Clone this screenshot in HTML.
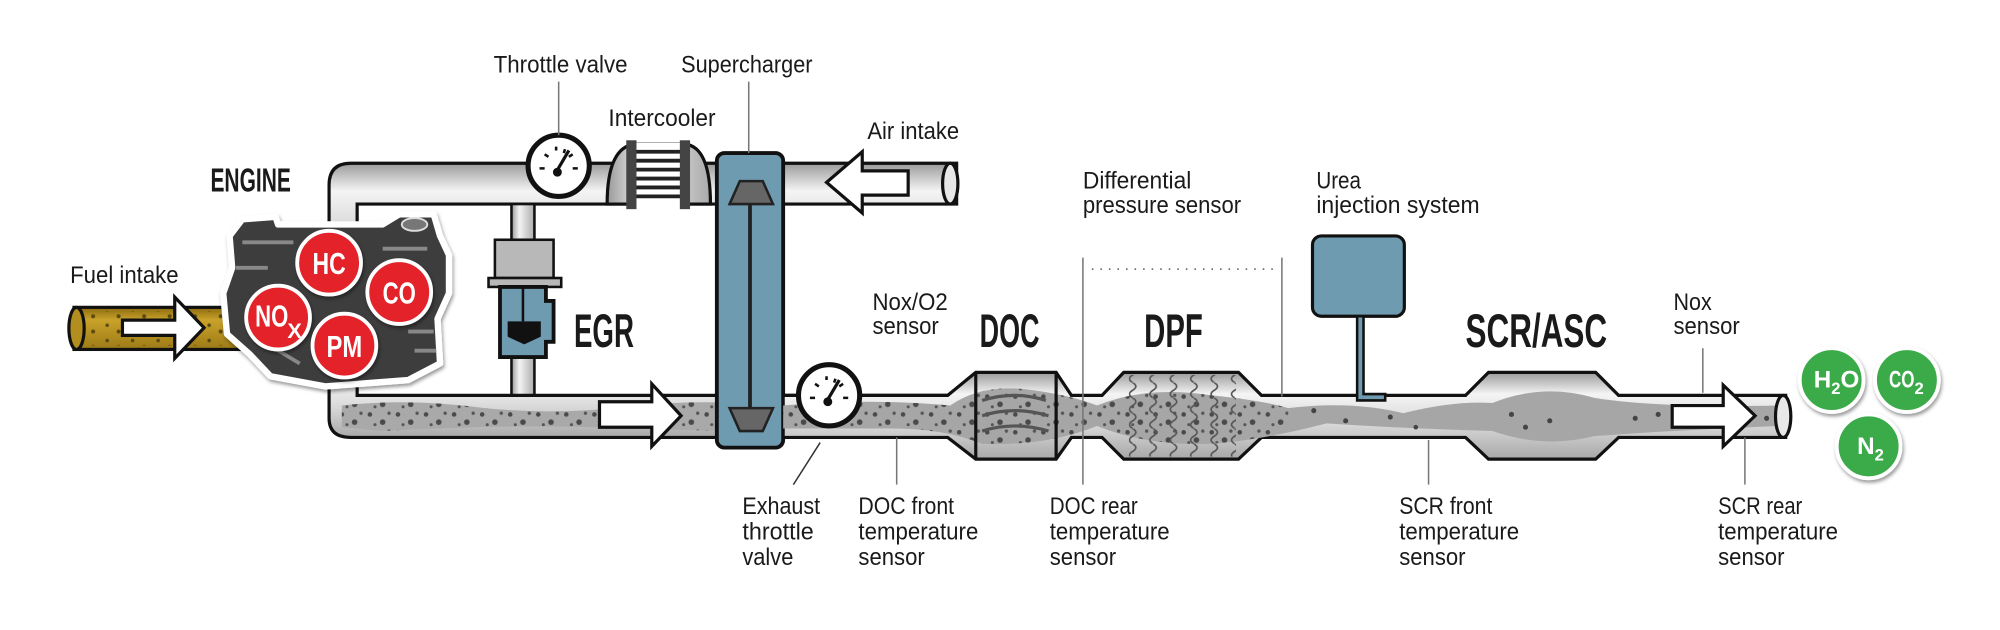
<!DOCTYPE html>
<html><head><meta charset="utf-8"><style>
html,body{margin:0;padding:0;background:#fff;width:2000px;height:630px;overflow:hidden}
svg{display:block}
text{font-family:"Liberation Sans",sans-serif;fill:#1a1a1a}
.l{font-size:18.5px}
.b{font-size:37px;font-weight:bold}
</style></head><body>
<svg width="2000" height="630" viewBox="0 0 1568 494" preserveAspectRatio="none" xmlns="http://www.w3.org/2000/svg">
<defs>
<linearGradient id="pg" x1="0" y1="0" x2="0" y2="1">
<stop offset="0" stop-color="#9a9a9a"/><stop offset="0.25" stop-color="#f4f4f4"/><stop offset="0.6" stop-color="#d8d8d8"/><stop offset="1" stop-color="#a8a8a8"/></linearGradient>
<linearGradient id="pv" x1="0" y1="0" x2="1" y2="0">
<stop offset="0" stop-color="#9a9a9a"/><stop offset="0.35" stop-color="#f4f4f4"/><stop offset="1" stop-color="#aaa"/></linearGradient>
<linearGradient id="gold" x1="0" y1="0" x2="0" y2="1">
<stop offset="0" stop-color="#8a6a10"/><stop offset="0.3" stop-color="#c9a22a"/><stop offset="1" stop-color="#9c7a16"/></linearGradient>
<pattern id="dots" width="22" height="14" patternUnits="userSpaceOnUse">
<circle cx="4" cy="3" r="1.8" fill="#4a4a4a"/><circle cx="14" cy="9" r="2.2" fill="#4a4a4a"/><circle cx="19" cy="2" r="1.3" fill="#555"/><circle cx="8" cy="11" r="1.2" fill="#555"/></pattern>
<pattern id="gdots" width="20" height="12" patternUnits="userSpaceOnUse">
<circle cx="4" cy="3" r="1.4" fill="#5a4a10"/><circle cx="13" cy="8" r="1.6" fill="#5a4a10"/></pattern>
<pattern id="wig" width="16" height="12" patternUnits="userSpaceOnUse">
<path d="M8 0 q5 3 0 6 q-5 3 0 6" fill="none" stroke="#555" stroke-width="1.3"/></pattern>
<filter id="sh" x="-30%" y="-30%" width="160%" height="160%"><feDropShadow dx="1" dy="2" stdDeviation="1.5" flood-opacity="0.4"/></filter>
</defs>

<path d="M258 215 V145 Q258 128 275 128 H750 V160 H280 V215 Z" fill="url(#pg)" stroke="#111" stroke-width="2.5"/>
<ellipse cx="745" cy="144" rx="6" ry="16" fill="#e8e8e8" stroke="#111" stroke-width="2.5"/>
<rect x="401" y="160" width="18" height="152" fill="url(#pv)" stroke="#111" stroke-width="2"/>
<path d="M258 285 V328 Q258 343 275 343 H745 V310 H280 V285 Z" fill="url(#pg)" stroke="#111" stroke-width="2.5"/>
<path d="M268 318 Q320 312 380 320 Q440 326 500 318 Q560 312 620 320 L745 318 L745 336 Q600 340 500 336 Q400 332 300 338 L268 335 Z" fill="#a9a9a9"/>
<path d="M268 318 Q320 312 380 320 Q440 326 500 318 Q560 312 620 320 L745 318 L745 336 Q600 340 500 336 Q400 332 300 338 L268 335 Z" fill="url(#dots)"/>

<rect x="58" y="241" width="135" height="33" fill="url(#gold)" stroke="#111" stroke-width="2.5"/>
<rect x="60" y="244" width="130" height="27" fill="url(#gdots)"/>
<ellipse cx="60" cy="257.5" rx="6" ry="16.5" fill="#b38d1e" stroke="#111" stroke-width="2.5"/>
<path d="M96 251 H137 V233 L160 257 L137 281 V263 H96 Z" fill="#fff" stroke="#111" stroke-width="2.5"/>

<g filter="url(#sh)">
<path d="M190 172 L216 170 L218 176 L300 176 L313 168 L340 168 L345 185 L352 200 L352 230 L343 250 L345 285 L320 298 L255 303 L212 295 L196 278 L178 262 L175 230 L182 210 L180 185 Z" fill="#3c3c3c" stroke="#fff" stroke-width="5" stroke-linejoin="round"/>
<path d="M190 190 H230 M185 210 H210 M300 195 H335 M300 210 L325 215 M320 260 H340 M325 275 H342 M210 270 L235 285" stroke="#888" stroke-width="3"/>
<ellipse cx="325" cy="176" rx="10" ry="5" fill="#777" stroke="#ddd" stroke-width="1.5"/>
</g>
<g filter="url(#sh)">
<circle cx="258" cy="206" r="25" fill="#e3222a" stroke="#fff" stroke-width="3"/>
<circle cx="313" cy="229" r="25" fill="#e3222a" stroke="#fff" stroke-width="3"/>
<circle cx="218" cy="249" r="25" fill="#e3222a" stroke="#fff" stroke-width="3"/>
<circle cx="270" cy="271" r="25" fill="#e3222a" stroke="#fff" stroke-width="3"/>
</g>
<g font-weight="bold" font-size="24" text-anchor="middle">
<text x="258" y="215" style="fill:#fff" textLength="26" lengthAdjust="spacingAndGlyphs">HC</text>
<text x="313" y="238" style="fill:#fff" textLength="26" lengthAdjust="spacingAndGlyphs">CO</text>
<text x="213" y="256" style="fill:#fff" textLength="26" lengthAdjust="spacingAndGlyphs">NO</text>
<text x="231" y="265" font-size="17" style="fill:#fff">X</text>
<text x="270" y="280" style="fill:#fff" textLength="28" lengthAdjust="spacingAndGlyphs">PM</text>
</g>

<circle cx="438" cy="130" r="24" fill="#fff" stroke="#111" stroke-width="4"/>
<path d="M423 132 h4 M449 132 h4 M427 121 l3 2 M446 123 l3 -2 M436 115 v3 M443 117 l-1 3" stroke="#111" stroke-width="2"/>
<path d="M436 135 L446 118" stroke="#111" stroke-width="2.5"/><circle cx="437" cy="135" r="3.5" fill="#111"/>
<line x1="438" y1="64" x2="438" y2="106" stroke="#777" stroke-width="1.2"/>
<path d="M476 160 Q476 115 498 113 H537 Q557 115 557 160 Z" fill="url(#pv)" stroke="#111" stroke-width="2.5"/>
<rect x="494" y="112" width="44" height="50" fill="#fff"/>
<g stroke="#222" stroke-width="3"><line x1="494" y1="119" x2="538" y2="119"/><line x1="494" y1="126" x2="538" y2="126"/><line x1="494" y1="133" x2="538" y2="133"/><line x1="494" y1="140" x2="538" y2="140"/><line x1="494" y1="147" x2="538" y2="147"/><line x1="494" y1="154" x2="538" y2="154"/></g>
<rect x="491" y="110" width="8" height="54" fill="#444"/><rect x="533" y="110" width="8" height="54" fill="#444"/>

<rect x="562" y="120" width="52" height="231" rx="6" fill="#6f9bb1" stroke="#111" stroke-width="3"/>
<line x1="588" y1="150" x2="588" y2="330" stroke="#222" stroke-width="3"/>
<path d="M572 160 L580 142 H598 L606 160 Z" fill="#666" stroke="#222" stroke-width="2"/>
<path d="M572 320 L580 338 H598 L606 320 Z" fill="#666" stroke="#222" stroke-width="2"/>
<line x1="587" y1="64" x2="587" y2="120" stroke="#777" stroke-width="1.2"/>

<path d="M712 134 H676 V119 L648 143 L676 167 V153 H712 Z" fill="#fff" stroke="#111" stroke-width="2.5"/>

<rect x="388" y="188" width="46" height="30" fill="#b8b8b8" stroke="#111" stroke-width="2"/>
<rect x="383" y="218" width="57" height="7" fill="#b8b8b8" stroke="#111" stroke-width="2"/>
<path d="M392 225 H428 V236 H434 V268 H428 V280 H392 Z" fill="#6f9bb1" stroke="#111" stroke-width="3"/>
<line x1="410" y1="225" x2="410" y2="252" stroke="#111" stroke-width="2"/>
<path d="M398 252 H424 V264 L411 270 L398 264 Z" fill="#111"/>

<path d="M470 315 H511 V301 L534 326 L511 350 V335 H470 Z" fill="#fff" stroke="#111" stroke-width="2.5"/>

<path d="M614 310 H743 L765 292 H828 L840 310 H864 L881 292 H971 L989 310 H1149 L1167 292 H1251 L1269 310 H1400 V343 H1269 L1251 360 H1167 L1149 343 H989 L971 360 H881 L864 343 H840 L828 360 H765 L743 343 H614 Z" fill="url(#pg)" stroke="#111" stroke-width="2.5"/>
<path d="M614 318 Q680 312 745 318 Q770 300 810 306 Q840 310 860 318 Q900 302 950 310 Q990 314 1010 320 Q1060 314 1100 324 Q1140 314 1170 316 Q1210 300 1250 312 Q1300 320 1395 318 L1395 334 Q1300 338 1250 342 Q1210 352 1170 338 Q1100 336 1040 332 Q990 345 950 348 Q900 350 860 334 Q820 350 770 348 Q740 336 700 336 L614 336 Z" fill="#a6a6a6"/>
<path d="M614 318 Q680 312 745 318 Q770 300 810 306 Q840 310 860 318 Q900 302 950 310 Q990 314 1010 320 L1010 336 Q990 345 950 348 Q900 350 860 334 Q820 350 770 348 Q740 336 700 336 L614 336 Z" fill="url(#dots)"/>
<rect x="885" y="294" width="84" height="64" fill="url(#wig)"/>
<g fill="#444"><circle cx="1030" cy="322" r="2"/><circle cx="1055" cy="330" r="2"/><circle cx="1090" cy="327" r="2"/><circle cx="1110" cy="335" r="1.8"/><circle cx="1185" cy="325" r="2"/><circle cx="1196" cy="335" r="2"/><circle cx="1215" cy="330" r="2"/><circle cx="1282" cy="328" r="2"/><circle cx="1300" cy="325" r="2"/><circle cx="1385" cy="328" r="2"/></g>
<path d="M770 314 Q795 306 820 314 M770 326 Q795 318 822 326 M770 338 Q795 330 822 338" stroke="#555" stroke-width="2.5" fill="none"/>
<line x1="765" y1="292" x2="765" y2="360" stroke="#111" stroke-width="2.5"/>
<line x1="828" y1="292" x2="828" y2="360" stroke="#111" stroke-width="2.5"/>
<ellipse cx="1398" cy="326.5" rx="6" ry="16.5" fill="#e8e8e8" stroke="#111" stroke-width="2.5"/>

<circle cx="650" cy="310" r="24" fill="#fff" stroke="#111" stroke-width="4"/>
<path d="M635 312 h4 M661 312 h4 M639 301 l3 2 M658 303 l3 -2 M648 295 v3 M655 297 l-1 3" stroke="#111" stroke-width="2"/>
<path d="M648 315 L658 298" stroke="#111" stroke-width="2.5"/><circle cx="649" cy="315" r="3.5" fill="#111"/>

<path d="M1311 318 H1351 V302 L1376 326 L1351 350 V335 H1311 Z" fill="#fff" stroke="#111" stroke-width="2.5"/>

<rect x="1029" y="185" width="72" height="63" rx="7" fill="#6f9bb1" stroke="#111" stroke-width="2.5"/>
<path d="M1064 248 V314 H1086 V309 H1069 V248 Z" fill="#6f9bb1" stroke="#111" stroke-width="2"/>

<g stroke="#777" stroke-width="1.2">
<line x1="849" y1="202" x2="849" y2="380"/><line x1="1005" y1="202" x2="1005" y2="311"/>
<line x1="856" y1="211" x2="1000" y2="211" stroke-dasharray="1.2 5.5" stroke="#555"/>
<line x1="643" y1="347" x2="622" y2="380" stroke="#333"/>
<line x1="703" y1="343" x2="703" y2="380"/>
<line x1="1120" y1="345" x2="1120" y2="380"/>
<line x1="1368" y1="343" x2="1368" y2="380"/>
<line x1="1335" y1="273" x2="1335" y2="308"/>
</g>

<g filter="url(#sh)">
<circle cx="1436" cy="298" r="25" fill="#3aaa48" stroke="#fff" stroke-width="3"/>
<circle cx="1495" cy="298" r="25" fill="#3aaa48" stroke="#fff" stroke-width="3"/>
<circle cx="1465" cy="350" r="25" fill="#3aaa48" stroke="#fff" stroke-width="3"/>
</g>
<g font-weight="bold" font-size="19">
<text x="1422" y="304" style="fill:#fff">H<tspan font-size="13" dy="5">2</tspan><tspan dy="-5">O</tspan></text>
<text x="1481" y="304" style="fill:#fff" textLength="20" lengthAdjust="spacingAndGlyphs">CO</text>
<text x="1501" y="309" font-size="13" style="fill:#fff">2</text>
<text x="1456" y="356" style="fill:#fff">N<tspan font-size="13" dy="5">2</tspan></text>
</g>

<g class="l">
<text class="l" x="387" y="57" textLength="105" lengthAdjust="spacingAndGlyphs">Throttle valve</text>
<text class="l" x="534" y="57" textLength="103" lengthAdjust="spacingAndGlyphs">Supercharger</text>
<text class="l" x="477" y="99" textLength="84" lengthAdjust="spacingAndGlyphs">Intercooler</text>
<text class="l" x="680" y="109" textLength="72" lengthAdjust="spacingAndGlyphs">Air intake</text>
<text class="l" x="55" y="222" textLength="85" lengthAdjust="spacingAndGlyphs">Fuel intake</text>
<text class="l" x="684" y="243" textLength="59" lengthAdjust="spacingAndGlyphs">Nox/O2</text>
<text class="l" x="684" y="262" textLength="52" lengthAdjust="spacingAndGlyphs">sensor</text>
<text class="l" x="582" y="403" textLength="61" lengthAdjust="spacingAndGlyphs">Exhaust</text>
<text class="l" x="582" y="423" textLength="56" lengthAdjust="spacingAndGlyphs">throttle</text>
<text class="l" x="582" y="443" textLength="40" lengthAdjust="spacingAndGlyphs">valve</text>
<text class="l" x="673" y="403" textLength="75" lengthAdjust="spacingAndGlyphs">DOC front</text>
<text class="l" x="673" y="423" textLength="94" lengthAdjust="spacingAndGlyphs">temperature</text>
<text class="l" x="673" y="443" textLength="52" lengthAdjust="spacingAndGlyphs">sensor</text>
<text class="l" x="823" y="403" textLength="69" lengthAdjust="spacingAndGlyphs">DOC rear</text>
<text class="l" x="823" y="423" textLength="94" lengthAdjust="spacingAndGlyphs">temperature</text>
<text class="l" x="823" y="443" textLength="52" lengthAdjust="spacingAndGlyphs">sensor</text>
<text class="l" x="849" y="148" textLength="85" lengthAdjust="spacingAndGlyphs">Differential</text>
<text class="l" x="849" y="167" textLength="124" lengthAdjust="spacingAndGlyphs">pressure sensor</text>
<text class="l" x="1032" y="148" textLength="35" lengthAdjust="spacingAndGlyphs">Urea</text>
<text class="l" x="1032" y="167" textLength="128" lengthAdjust="spacingAndGlyphs">injection system</text>
<text class="l" x="1097" y="403" textLength="73" lengthAdjust="spacingAndGlyphs">SCR front</text>
<text class="l" x="1097" y="423" textLength="94" lengthAdjust="spacingAndGlyphs">temperature</text>
<text class="l" x="1097" y="443" textLength="52" lengthAdjust="spacingAndGlyphs">sensor</text>
<text class="l" x="1347" y="403" textLength="66" lengthAdjust="spacingAndGlyphs">SCR rear</text>
<text class="l" x="1347" y="423" textLength="94" lengthAdjust="spacingAndGlyphs">temperature</text>
<text class="l" x="1347" y="443" textLength="52" lengthAdjust="spacingAndGlyphs">sensor</text>
<text class="l" x="1312" y="243" textLength="30" lengthAdjust="spacingAndGlyphs">Nox</text>
<text class="l" x="1312" y="262" textLength="52" lengthAdjust="spacingAndGlyphs">sensor</text>
</g>
<text x="165" y="150" font-size="26" font-weight="bold" textLength="63" lengthAdjust="spacingAndGlyphs">ENGINE</text>
<text class="b" x="450" y="272" textLength="47" lengthAdjust="spacingAndGlyphs">EGR</text>
<text class="b" x="768" y="272" textLength="47" lengthAdjust="spacingAndGlyphs">DOC</text>
<text class="b" x="897" y="272" textLength="46" lengthAdjust="spacingAndGlyphs">DPF</text>
<text class="b" x="1149" y="272" textLength="111" lengthAdjust="spacingAndGlyphs">SCR/ASC</text>
</svg>
</body></html>
